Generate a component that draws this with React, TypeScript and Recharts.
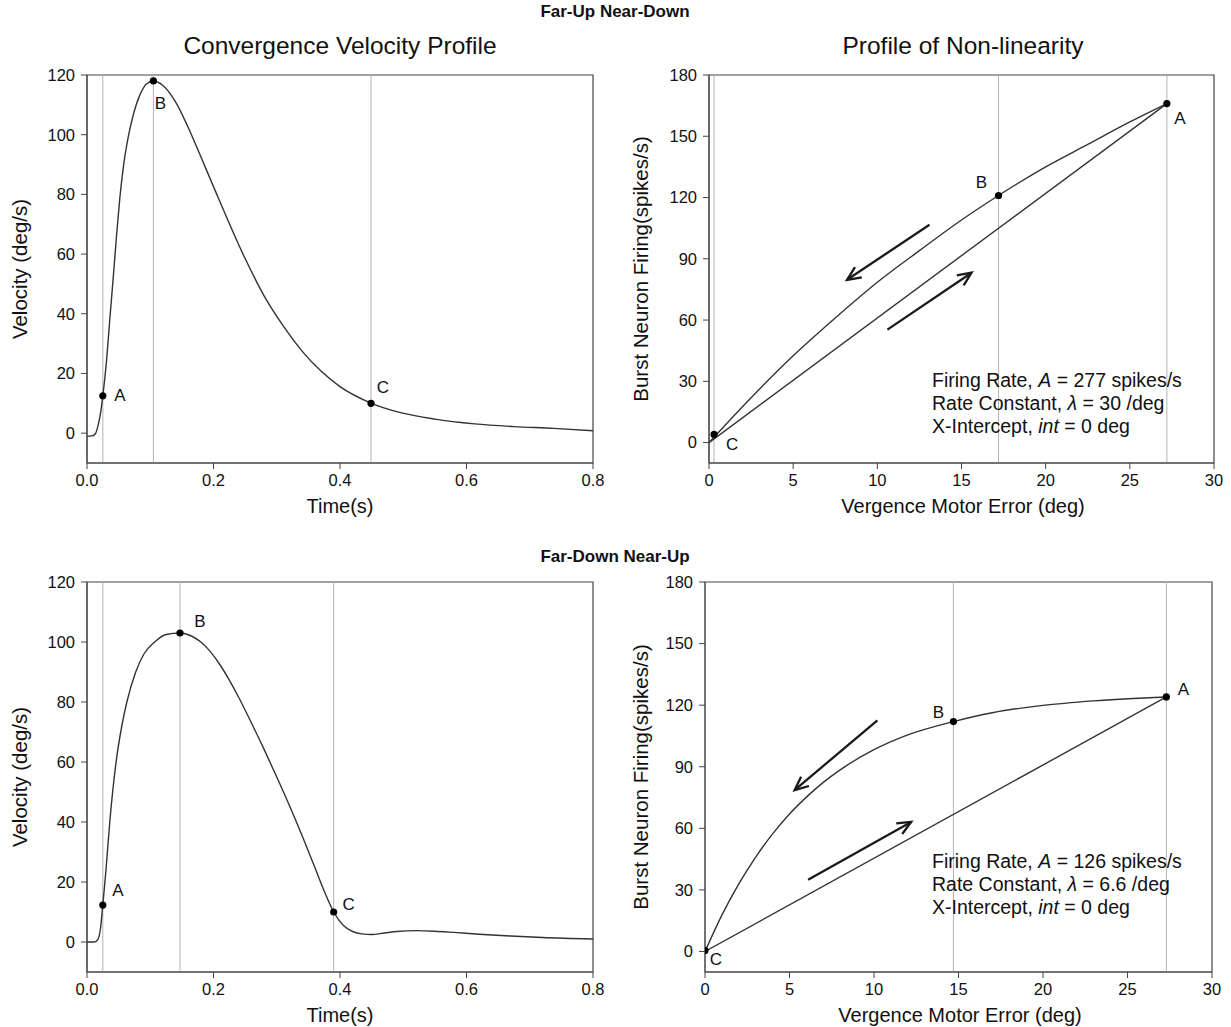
import React from 'react';
import { ComposedChart, Line, Scatter, XAxis, YAxis, ReferenceLine, ReferenceArea } from 'recharts';

const FONT = '"Liberation Sans", Arial, Helvetica, sans-serif';
const INK = '#111';
const CURVE = '#333';
const GUIDE = '#b4b4b4';

// ---- Far-Up Near-Down : convergence velocity (deg/s) vs time (s)
const farUpTime = [0, 0.008, 0.013, 0.018, 0.022, 0.025, 0.031, 0.036, 0.042, 0.047, 0.052, 0.058, 0.065, 0.073, 0.084, 0.094, 0.105, 0.12, 0.14, 0.16, 0.18, 0.2, 0.25, 0.28, 0.31, 0.34, 0.37, 0.4, 0.45, 0.488, 0.55, 0.613, 0.675, 0.738, 0.8];
const farUpVelocity = [-1, -0.9, -0.3, 3, 7.5, 12.5, 24.5, 38, 53.5, 67, 79, 90, 99, 106.5, 113.5, 117, 118, 116.5, 111, 102.4, 92.6, 82.6, 58.5, 46, 36, 27.5, 20.8, 15.6, 10, 7.3, 4.7, 3.1, 2.2, 1.6, 0.8];

// ---- Far-Down Near-Up : convergence velocity
const farDownTime = [0, 0.012, 0.017, 0.021, 0.025, 0.03, 0.036, 0.046, 0.055, 0.063, 0.077, 0.09, 0.107, 0.125, 0.147, 0.165, 0.18, 0.195, 0.21, 0.225, 0.24, 0.26, 0.28, 0.3, 0.32, 0.34, 0.36, 0.375, 0.39, 0.405, 0.42, 0.435, 0.45, 0.47, 0.49, 0.52, 0.55, 0.58, 0.62, 0.67, 0.72, 0.8];
const farDownVelocity = [0, 0, 0.8, 4, 12.3, 24, 40, 60, 72, 80, 90, 96, 100, 102.5, 103, 102, 100, 96.8, 92.5, 87.3, 81.5, 73, 64.2, 55, 45.5, 35.5, 25, 17, 10, 5.6, 3.5, 2.7, 2.5, 3, 3.5, 3.8, 3.6, 3.2, 2.6, 2, 1.5, 1];

// ---- burst neuron firing (spikes/s) vs vergence motor error (deg)
const farUpError = [0, 2.5, 5, 7.5, 10, 12.5, 15, 17.2, 20, 22.5, 25, 27.2];
const farUpFiring = [0, 22, 42.5, 61, 78.5, 94, 109, 121, 135, 146, 157, 166];
const farUpLinearError = [0, 27.2];
const farUpLinearFiring = [0, 166];

const farDownError = [0, 1, 2, 3, 4, 5, 6, 7, 8, 10, 12, 14.7, 17, 20, 23, 27.3];
const farDownFiring = [0, 17.7, 32.9, 46, 57.3, 67, 75.2, 82.4, 88.5, 98.3, 105.5, 112, 116.3, 119.9, 122.1, 124];
const farDownLinearError = [0, 27.3];
const farDownLinearFiring = [0, 124];

// ---- marked points A, B, C
const pointNames = ['A', 'B', 'C'];
const farUpPointTime = [0.025, 0.105, 0.449];
const farUpPointVel = [12.5, 118, 10];
const farUpPointError = [27.2, 17.2, 0.3];
const farUpPointFiring = [166, 121, 4];
const farDownPointTime = [0.025, 0.147, 0.39];
const farDownPointVel = [12.3, 103, 10];
const farDownPointError = [27.3, 14.7, 0];
const farDownPointFiring = [124, 112, 0.5];

// ---- direction arrows [x tail, y tail, x head, y head]
const farUpArrows = [
  [13.1, 106.7, 8.2, 79.7],
  [10.6, 55.3, 15.6, 83.2],
];
const farDownArrows = [
  [10.2, 112.6, 5.3, 78.6],
  [6.1, 35, 12.2, 63.1],
];

const timeTicks = [0, 0.2, 0.4, 0.6, 0.8];
const velocityTicks = [0, 20, 40, 60, 80, 100, 120];
const errorTicks = [0, 5, 10, 15, 20, 25, 30];
const firingTicks = [0, 30, 60, 90, 120, 150, 180];

const zip = (xs: number[], ys: number[]) => xs.map((x, i) => ({ x, y: ys[i] }));
const named = (xs: number[], ys: number[]) => xs.map((x, i) => ({ x, y: ys[i], name: pointNames[i] }));

type Pt = { x: number; y: number; name?: string };

const Arrow = (p: any) => {
  const { x1, y1, x2, y2 } = p;
  const a = Math.atan2(y2 - y1, x2 - x1);
  const L = 15;
  const s = 0.42;
  const b1x = x2 - L * Math.cos(a - s);
  const b1y = y2 - L * Math.sin(a - s);
  const b2x = x2 - L * Math.cos(a + s);
  const b2y = y2 - L * Math.sin(a + s);
  return (
    <g>
      <line x1={x1} y1={y1} x2={x2} y2={y2} stroke="#1a1a1a" strokeWidth={2.3} />
      <polyline points={`${b1x},${b1y} ${x2},${y2} ${b2x},${b2y}`} fill="none" stroke="#1a1a1a" strokeWidth={2.3} />
    </g>
  );
};

interface PanelProps {
  left: number;
  top: number;
  width: number;
  height: number;
  margin: { top: number; right: number; bottom: number; left: number };
  yWidth: number;
  xDomain: [number, number];
  yDomain: [number, number];
  xTicks: number[];
  yTicks: number[];
  xFmt?: (v: number) => string;
  curves: Pt[][];
  points: Pt[];
  arrows?: number[][];
  labelShift: Record<string, [number, number]>;
}

function Panel(props: PanelProps) {
  const { left, top, width, height, margin, yWidth, xDomain, yDomain, xTicks, yTicks, xFmt, curves, points, arrows, labelShift } = props;

  const dotShape = (s: any) => {
    const { cx, cy, payload } = s;
    const d = labelShift[payload.name] || [12, 0];
    return (
      <g>
        <circle cx={cx} cy={cy} r={3.6} fill="#000" />
        <text x={cx + d[0]} y={cy + d[1]} textAnchor="middle" dominantBaseline="central" fontSize={17} fill={INK} fontFamily={FONT}>
          {payload.name}
        </text>
      </g>
    );
  };

  return (
    <div style={{ position: 'absolute', left, top, width, height }}>
      <ComposedChart width={width} height={height} margin={margin}>
        <XAxis
          type="number"
          dataKey="x"
          domain={xDomain}
          ticks={xTicks}
          tickFormatter={xFmt}
          allowDataOverflow
          height={52}
          tickSize={6}
          tickMargin={5}
          axisLine={{ stroke: '#444' }}
          tickLine={{ stroke: '#444' }}
          tick={{ fill: INK, fontSize: 16.5, fontFamily: FONT }}
        />
        <YAxis
          type="number"
          dataKey="y"
          domain={yDomain}
          ticks={yTicks}
          allowDataOverflow
          width={yWidth}
          tickSize={6}
          tickMargin={6}
          axisLine={{ stroke: '#444' }}
          tickLine={{ stroke: '#444' }}
          tick={{ fill: INK, fontSize: 16.5, fontFamily: FONT }}
        />
        {points.map((p) => (
          <ReferenceLine key={'g' + p.name} x={p.x} stroke={GUIDE} strokeWidth={1} />
        ))}
        {curves.map((c, i) => (
          <Line key={'c' + i} data={c} dataKey="y" type="monotone" dot={false} activeDot={false} stroke={CURVE} strokeWidth={1.4} isAnimationActive={false} />
        ))}
        {(arrows || []).map((a, i) => (
          <ReferenceLine key={'a' + i} segment={[{ x: a[0], y: a[1] }, { x: a[2], y: a[3] }]} shape={Arrow} />
        ))}
        <Scatter data={points} shape={dotShape} isAnimationActive={false} />
        <ReferenceArea x1={xDomain[0]} x2={xDomain[1]} y1={yDomain[0]} y2={yDomain[1]} fill="none" stroke="#444" strokeWidth={1.2} />
      </ComposedChart>
    </div>
  );
}

const Centered = ({ cx, cy, children, size, bold, rotate }: any) => (
  <div
    style={{
      position: 'absolute',
      left: cx - 300,
      top: cy - 15,
      width: 600,
      height: 30,
      lineHeight: '30px',
      textAlign: 'center',
      fontSize: size,
      fontWeight: bold ? 'bold' : 'normal',
      color: INK,
      whiteSpace: 'nowrap',
      transform: rotate ? 'rotate(-90deg)' : undefined,
    }}
  >
    {children}
  </div>
);

const Note = ({ left, top, amp, lambda }: any) => (
  <div style={{ position: 'absolute', left, top, fontSize: 19.5, lineHeight: '23px', color: INK, whiteSpace: 'nowrap' }}>
    <div>
      Firing Rate, <i>A</i> = {amp} spikes/s
    </div>
    <div>
      Rate Constant, <i>λ</i> = {lambda} /deg
    </div>
    <div>
      X-Intercept, <i>int</i> = 0 deg
    </div>
  </div>
);

const fmt1 = (v: number) => v.toFixed(1);

export default function App() {
  return (
    <div style={{ position: 'absolute', left: 0, top: 0, width: 1231, height: 1027, background: '#fff', fontFamily: FONT, overflow: 'hidden' }}>
      <Panel
        left={0}
        top={0}
        width={615}
        height={520}
        margin={{ top: 75, right: 22, bottom: 5, left: 0 }}
        yWidth={87}
        xDomain={[0, 0.8]}
        yDomain={[-10, 120]}
        xTicks={timeTicks}
        yTicks={velocityTicks}
        xFmt={fmt1}
        curves={[zip(farUpTime, farUpVelocity)]}
        points={named(farUpPointTime, farUpPointVel)}
        labelShift={{ A: [17, 0], B: [7, 23], C: [12, -16] }}
      />
      <Panel
        left={615}
        top={0}
        width={616}
        height={520}
        margin={{ top: 75, right: 17, bottom: 5, left: 0 }}
        yWidth={94}
        xDomain={[0, 30]}
        yDomain={[-10, 180]}
        xTicks={errorTicks}
        yTicks={firingTicks}
        curves={[zip(farUpError, farUpFiring), zip(farUpLinearError, farUpLinearFiring)]}
        points={named(farUpPointError, farUpPointFiring)}
        arrows={farUpArrows}
        labelShift={{ A: [13, 15], B: [-17, -13], C: [18, 10] }}
      />
      <Panel
        left={0}
        top={520}
        width={615}
        height={507}
        margin={{ top: 62, right: 22, bottom: 3, left: 0 }}
        yWidth={87}
        xDomain={[0, 0.8]}
        yDomain={[-10, 120]}
        xTicks={timeTicks}
        yTicks={velocityTicks}
        xFmt={fmt1}
        curves={[zip(farDownTime, farDownVelocity)]}
        points={named(farDownPointTime, farDownPointVel)}
        labelShift={{ A: [15, -15], B: [20, -12], C: [15, -8] }}
      />
      <Panel
        left={615}
        top={520}
        width={616}
        height={507}
        margin={{ top: 62, right: 19, bottom: 3, left: 0 }}
        yWidth={90}
        xDomain={[0, 30]}
        yDomain={[-10, 180]}
        xTicks={errorTicks}
        yTicks={firingTicks}
        curves={[zip(farDownError, farDownFiring), zip(farDownLinearError, farDownLinearFiring)]}
        points={named(farDownPointError, farDownPointFiring)}
        arrows={farDownArrows}
        labelShift={{ A: [17, -7], B: [-15, -9], C: [11, 9] }}
      />

      <Centered cx={615} cy={12} size={17} bold>Far-Up Near-Down</Centered>
      <Centered cx={340} cy={46} size={24.5}>Convergence Velocity Profile</Centered>
      <Centered cx={963} cy={46} size={24.5}>Profile of Non-linearity</Centered>
      <Centered cx={615} cy={557} size={17} bold>Far-Down Near-Up</Centered>

      <Centered cx={340} cy={506} size={20}>Time(s)</Centered>
      <Centered cx={963} cy={506} size={20}>Vergence Motor Error (deg)</Centered>
      <Centered cx={340} cy={1015} size={20}>Time(s)</Centered>
      <Centered cx={960} cy={1015} size={20}>Vergence Motor Error (deg)</Centered>

      <Centered cx={20} cy={269} size={20.5} rotate>Velocity (deg/s)</Centered>
      <Centered cx={641} cy={269} size={20.5} rotate>Burst Neuron Firing(spikes/s)</Centered>
      <Centered cx={20} cy={777} size={20.5} rotate>Velocity (deg/s)</Centered>
      <Centered cx={641} cy={777} size={20.5} rotate>Burst Neuron Firing(spikes/s)</Centered>

      <Note left={932} top={369} amp={277} lambda={30} />
      <Note left={932} top={850} amp={126} lambda={6.6} />
    </div>
  );
}
